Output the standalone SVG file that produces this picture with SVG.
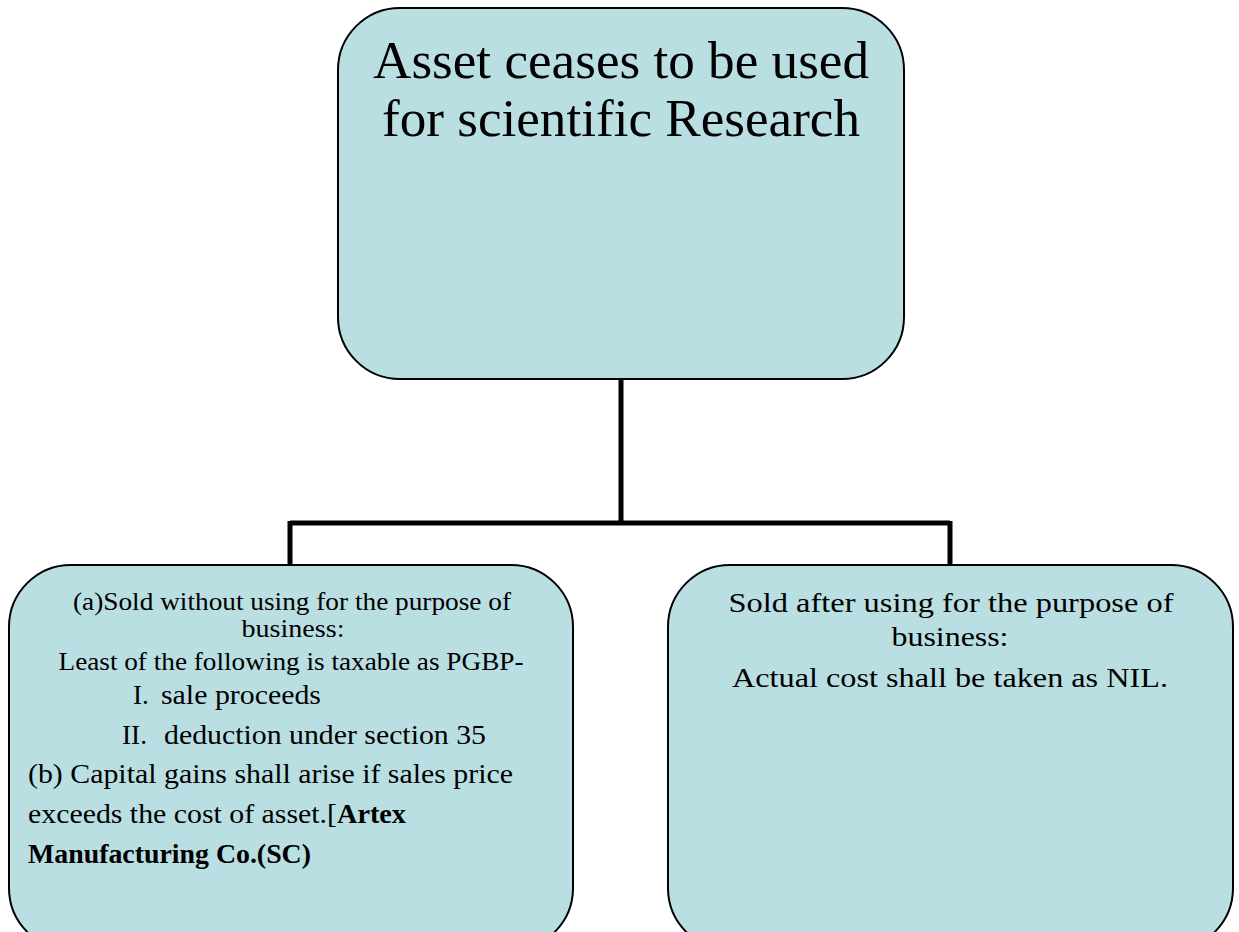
<svg xmlns="http://www.w3.org/2000/svg" width="1239" height="932" viewBox="0 0 1239 932">
<style>
.box{fill:#badfe2;stroke:#000;stroke-width:2}
.t{font-family:"Liberation Serif","Times New Roman",serif;fill:#000}
.c{text-anchor:middle}
.conn{fill:none;stroke:#000;stroke-width:5}
</style>
<rect width="1239" height="932" fill="#fff"/>
<g id="connectors">
<path class="conn" d="M621,379 V523 M290,523 H950 M290,521 V565 M950,521 V565"/>
</g>
<g id="top">
<rect class="box" x="338" y="8" width="566" height="371" rx="62"/>
<text class="t c" x="621" y="78" font-size="53" textLength="496" lengthAdjust="spacingAndGlyphs">Asset ceases to be used</text>
<text class="t c" x="621" y="136" font-size="53" textLength="478" lengthAdjust="spacingAndGlyphs">for scientific Research</text>
</g>
<g id="left">
<rect class="box" x="9" y="565" width="564" height="385" rx="62"/>
<text class="t c" x="292" y="610" font-size="25" textLength="438" lengthAdjust="spacingAndGlyphs">(a)Sold without using for the purpose of</text>
<text class="t c" x="293" y="637" font-size="25" textLength="103" lengthAdjust="spacingAndGlyphs">business:</text>
<text class="t c" x="291" y="670" font-size="25" textLength="465" lengthAdjust="spacingAndGlyphs">Least of the following is taxable as PGBP-</text>
<text class="t" x="133" y="704" font-size="27">I.</text>
<text class="t" x="161" y="704" font-size="27" textLength="160" lengthAdjust="spacingAndGlyphs">sale proceeds</text>
<text class="t" x="122" y="744" font-size="27" textLength="25" lengthAdjust="spacingAndGlyphs">II.</text>
<text class="t" x="164" y="744" font-size="27" textLength="322" lengthAdjust="spacingAndGlyphs">deduction under section 35</text>
<text class="t" x="28" y="783" font-size="27" textLength="485" lengthAdjust="spacingAndGlyphs">(b) Capital gains shall arise if sales price</text>
<text class="t" x="28" y="823" font-size="27" textLength="309" lengthAdjust="spacingAndGlyphs">exceeds the cost of asset.[</text>
<text class="t" x="337" y="823" font-size="27" font-weight="bold" textLength="69" lengthAdjust="spacingAndGlyphs">Artex</text>
<text class="t" x="28" y="863" font-size="27" font-weight="bold" textLength="283" lengthAdjust="spacingAndGlyphs">Manufacturing Co.(SC)</text>
</g>
<g id="right">
<rect class="box" x="668" y="565" width="565" height="385" rx="62"/>
<text class="t c" x="951" y="612" font-size="28" textLength="445" lengthAdjust="spacingAndGlyphs">Sold after using for the purpose of</text>
<text class="t c" x="950" y="646" font-size="28" textLength="117" lengthAdjust="spacingAndGlyphs">business:</text>
<text class="t c" x="950" y="687" font-size="28" textLength="436" lengthAdjust="spacingAndGlyphs">Actual cost shall be taken as NIL.</text>
</g>
</svg>
